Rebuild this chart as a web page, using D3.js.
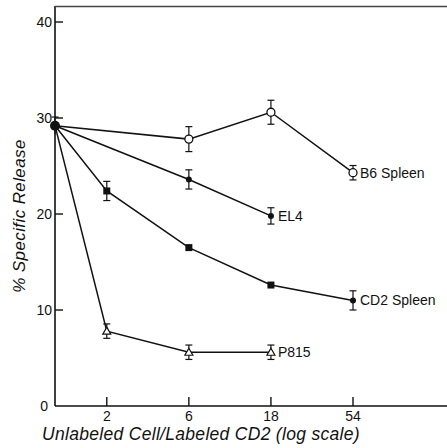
<!DOCTYPE html>
<html>
<head>
<meta charset="utf-8">
<script src="https://cdn.jsdelivr.net/npm/d3@7"></script>
<style>
  body { margin: 0; background: #fff; }
  text { font-family: "Liberation Sans", Arial, sans-serif; fill: #111; }
</style>
</head>
<body>
<div id="chart"></div>
<script>
// data: x = unlabeled/labeled ratio, y = % specific release, err = +/- bar
const startPoint = { x: 1, y: 29.2, err: 0.9 };

const b6X = [6, 18, 54];
const b6Y = [27.8, 30.6, 24.3];
const b6Err = [1.3, 1.25, 0.75];

const el4X = [6, 18];
const el4Y = [23.6, 19.8];
const el4Err = [1.0, 0.85];

const cd2X = [2, 6, 18, 54];
const cd2Y = [22.4, 16.5, 12.6, 11.0];
const cd2Err = [1.0, 0, 0, 1.0];

const p815X = [2, 6, 18];
const p815Y = [7.8, 5.6, 5.6];
const p815Err = [0.75, 0.75, 0.75];

const xTicks = [2, 6, 18, 54];
const yTicks = [0, 10, 20, 30, 40];

const series = [
  { name: "B6 Spleen", xs: b6X, ys: b6Y, errs: b6Err, marker: ["openCircle", "openCircle", "openCircle"] },
  { name: "EL4", xs: el4X, ys: el4Y, errs: el4Err, marker: ["dot", "dot"] },
  { name: "CD2 Spleen", xs: cd2X, ys: cd2Y, errs: cd2Err, marker: ["square", "square", "square", "dot"] },
  { name: "P815", xs: p815X, ys: p815Y, errs: p815Err, marker: ["triangle", "triangle", "triangle"] }
];

const W = 447, H = 448;
const svg = d3.select("#chart").append("svg")
  .attr("width", W).attr("height", H);

const x = d3.scaleLog().base(3).domain([1, 54]).range([55, 353]);
const y = d3.scaleLinear().domain([0, 40]).range([406, 22]);

const ink = "#111";

// frame: left axis, bottom axis, top line
svg.append("line").attr("x1", 55).attr("x2", 55).attr("y1", 6).attr("y2", y(0))
  .attr("stroke", ink).attr("stroke-width", 1.6);
svg.append("line").attr("x1", 55).attr("x2", W).attr("y1", y(0)).attr("y2", y(0))
  .attr("stroke", ink).attr("stroke-width", 1.6);
svg.append("line").attr("x1", 55).attr("x2", W).attr("y1", 6.5).attr("y2", 6.5)
  .attr("stroke", "#444").attr("stroke-width", 1.6);

// y ticks (inside, pointing right)
yTicks.forEach(t => {
  if (t > 0) {
    svg.append("line").attr("x1", 55).attr("x2", 63)
      .attr("y1", y(t)).attr("y2", y(t)).attr("stroke", ink).attr("stroke-width", 1.4);
  }
  svg.append("text").text(t)
    .attr("x", t === 0 ? 48 : 52).attr("y", y(t) + 5)
    .attr("text-anchor", "end").style("font-size", "14px");
});

// x ticks (inside, pointing up)
xTicks.forEach(t => {
  svg.append("line").attr("x1", x(t)).attr("x2", x(t))
    .attr("y1", y(0)).attr("y2", y(0) - 9).attr("stroke", ink).attr("stroke-width", 1.4);
  svg.append("text").text(t)
    .attr("x", x(t)).attr("y", y(0) + 15)
    .attr("text-anchor", "middle").style("font-size", "14px");
});

// axis titles
svg.append("text")
  .text("Unlabeled Cell/Labeled CD2 (log scale)")
  .attr("x", 201).attr("y", 440)
  .attr("text-anchor", "middle")
  .style("font-size", "17.5px").style("font-style", "italic")
  .style("letter-spacing", "0.3px");

svg.append("text")
  .text("% Specific Release")
  .attr("transform", "translate(25, 216) rotate(-90)")
  .attr("text-anchor", "middle")
  .style("font-size", "17px").style("font-style", "italic")
  .style("letter-spacing", "0.4px");

// lines, each starting at the common point
const line = d3.line().x(d => x(d.x)).y(d => y(d.y));

series.forEach(s => {
  const pts = [startPoint].concat(s.xs.map((v, i) => ({ x: v, y: s.ys[i], err: s.errs[i], m: s.marker[i] })));
  svg.append("path").datum(pts)
    .attr("d", line)
    .attr("fill", "none").attr("stroke", ink).attr("stroke-width", 1.5);

  const g = svg.append("g");
  pts.slice(1).forEach(p => {
    const px = x(p.x), py = y(p.y);
    if (p.err > 0) {
      const y1 = y(p.y + p.err), y2 = y(p.y - p.err);
      g.append("line").attr("x1", px).attr("x2", px).attr("y1", y1).attr("y2", y2)
        .attr("stroke", ink).attr("stroke-width", 1.2);
      [y1, y2].forEach(yy => g.append("line")
        .attr("x1", px - 3.5).attr("x2", px + 3.5).attr("y1", yy).attr("y2", yy)
        .attr("stroke", ink).attr("stroke-width", 1.2));
    }
    if (p.m === "openCircle") {
      g.append("circle").attr("cx", px).attr("cy", py).attr("r", 4)
        .attr("fill", "#fff").attr("stroke", ink).attr("stroke-width", 1.3);
    } else if (p.m === "dot") {
      g.append("circle").attr("cx", px).attr("cy", py).attr("r", 3)
        .attr("fill", ink);
    } else if (p.m === "square") {
      g.append("rect").attr("x", px - 3.5).attr("y", py - 3.5)
        .attr("width", 7).attr("height", 7).attr("fill", ink);
    } else if (p.m === "triangle") {
      g.append("path")
        .attr("d", `M${px},${py - 4}L${px + 4},${py + 3}L${px - 4},${py + 3}Z`)
        .attr("fill", "#fff").attr("stroke", ink).attr("stroke-width", 1.2);
    }
  });

  // series label next to the last point
  const last = pts[pts.length - 1];
  svg.append("text").text(s.name)
    .attr("x", x(last.x) + 7).attr("y", y(last.y) + 5)
    .style("font-size", "14px");
});

// common starting point with its error bar
const sx = x(startPoint.x), sy = y(startPoint.y);
svg.append("line").attr("x1", sx).attr("x2", sx)
  .attr("y1", y(startPoint.y + startPoint.err)).attr("y2", y(startPoint.y - startPoint.err))
  .attr("stroke", ink).attr("stroke-width", 1.2);
svg.append("line").attr("x1", sx - 3.5).attr("x2", sx + 3.5)
  .attr("y1", y(startPoint.y + startPoint.err)).attr("y2", y(startPoint.y + startPoint.err))
  .attr("stroke", ink).attr("stroke-width", 1.2);
svg.append("circle").attr("cx", sx).attr("cy", sy).attr("r", 5).attr("fill", ink);
</script>
</body>
</html>
